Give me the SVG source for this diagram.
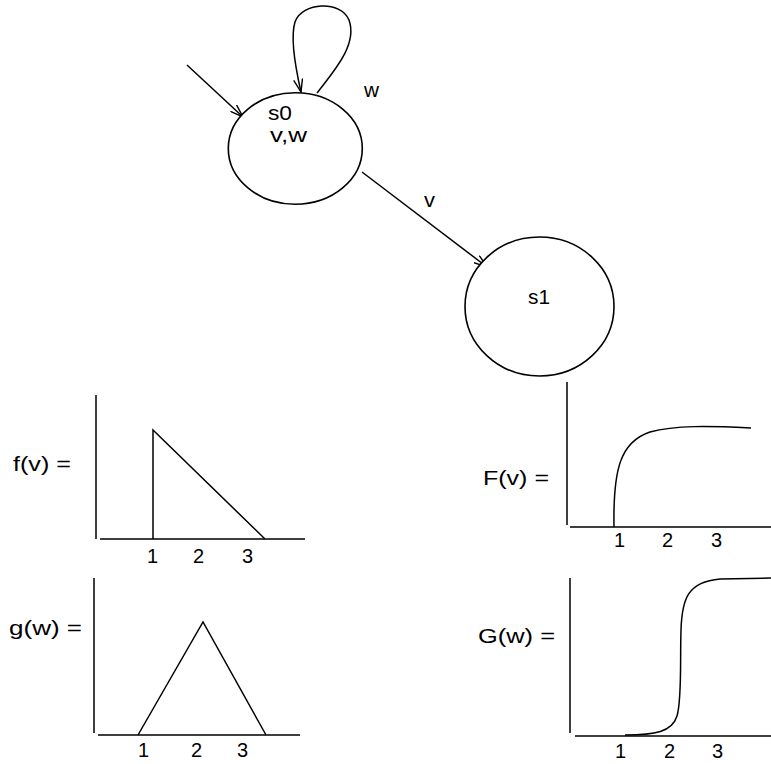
<svg xmlns="http://www.w3.org/2000/svg" width="771" height="764" viewBox="0 0 771 764">
<defs>
<style>
.ln{fill:none;stroke:#000;stroke-width:1.5}
.nd{fill:#fff;stroke:#000;stroke-width:1.6}
.t{font-family:"Liberation Sans",Arial,sans-serif;font-size:20px;fill:#000}
</style>
<marker id="arr" viewBox="0 0 14 10" refX="13" refY="5" markerWidth="14" markerHeight="10" markerUnits="userSpaceOnUse" orient="auto">
<path d="M0,0.5 L13,5 L0,9.5" fill="none" stroke="#000" stroke-width="1.4"/>
</marker>
</defs>
<rect width="771" height="764" fill="#fff"/>
<g id="connectors">
<path class="ln" d="M187,65 L243,117" marker-end="url(#arr)"/>
<path class="ln" d="M317,93 C333,72 358,45 349,20 C341,0 302,2 295,22 C290,38 296,70 301,92" marker-end="url(#arr)"/>
<path class="ln" d="M362,172 L487,267" marker-end="url(#arr)"/>
<text class="t" x="364" y="97" textLength="15" lengthAdjust="spacingAndGlyphs">w</text>
<text class="t" x="424" y="207" textLength="11" lengthAdjust="spacingAndGlyphs">v</text>
</g>
<g id="s0">
<ellipse class="nd" cx="295.3" cy="148.5" rx="67" ry="55.7"/>
<text class="t" x="268" y="120" textLength="24" lengthAdjust="spacingAndGlyphs">s0</text>
<text class="t" x="270" y="142" textLength="37" lengthAdjust="spacingAndGlyphs">v,w</text>
</g>
<g id="s1">
<ellipse class="nd" cx="539.5" cy="306.5" rx="74.5" ry="69.5"/>
<text class="t" x="528" y="304" textLength="22" lengthAdjust="spacingAndGlyphs">s1</text>
</g>
<g id="plot-f">
<text class="t" x="13" y="471" textLength="58" lengthAdjust="spacingAndGlyphs">f(v) =</text>
<path class="ln" d="M96,395 L96,539 M100,539 L305,539"/>
<path class="ln" d="M153,539 L153,430 L265,539"/>
<text class="t" x="147" y="563">1</text>
<text class="t" x="193" y="563">2</text>
<text class="t" x="242" y="563">3</text>
</g>
<g id="plot-F">
<text class="t" x="483" y="485" textLength="66" lengthAdjust="spacingAndGlyphs">F(v) =</text>
<path class="ln" d="M567,382 L567,525 M570,527 L771,527"/>
<path class="ln" d="M614,527 C613,470 620,442 650,432 C675,425 710,426 751,428"/>
<text class="t" x="614" y="547">1</text>
<text class="t" x="662" y="547">2</text>
<text class="t" x="711" y="547">3</text>
</g>
<g id="plot-g">
<text class="t" x="9" y="635" textLength="73" lengthAdjust="spacingAndGlyphs">g(w) =</text>
<path class="ln" d="M94,578 L94,733 M98,735 L300,735"/>
<path class="ln" d="M138,735 L203,622 L266,735"/>
<text class="t" x="138" y="757">1</text>
<text class="t" x="191" y="757">2</text>
<text class="t" x="237" y="757">3</text>
</g>
<g id="plot-G">
<text class="t" x="478" y="643" textLength="77" lengthAdjust="spacingAndGlyphs">G(w) =</text>
<path class="ln" d="M570,578 L570,733 M575,736 L771,736"/>
<path class="ln" d="M625,735 C655,735 672,732 677,716 C682,700 680,660 681,630 C682,598 688,582 720,579 L771,578"/>
<text class="t" x="615" y="758">1</text>
<text class="t" x="664" y="758">2</text>
<text class="t" x="712" y="758">3</text>
</g>
</svg>
